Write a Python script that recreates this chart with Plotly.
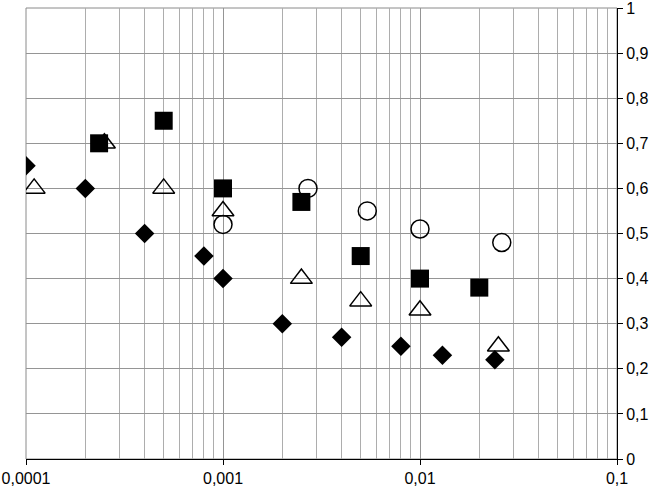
import plotly.graph_objects as go

# Data
diamond_x = [0.0001, 0.0002, 0.0004, 0.0008, 0.001, 0.002, 0.004, 0.008, 0.013, 0.024]
diamond_y = [0.65, 0.60, 0.50, 0.45, 0.40, 0.30, 0.27, 0.25, 0.23, 0.22]

square_x = [0.000235, 0.0005, 0.001, 0.0025, 0.005, 0.01, 0.02]
square_y = [0.70, 0.75, 0.60, 0.57, 0.45, 0.40, 0.38]

triangle_x = [0.00011, 0.00025, 0.0005, 0.001, 0.0025, 0.005, 0.01, 0.025]
triangle_y = [0.60, 0.70, 0.60, 0.55, 0.40, 0.35, 0.33, 0.25]

circle_x = [0.001, 0.0027, 0.0054, 0.01, 0.026]
circle_y = [0.52, 0.60, 0.55, 0.51, 0.48]

x_tickvals = [0.0001, 0.001, 0.01, 0.1]
x_ticktext = ["0,0001", "0,001", "0,01", "0,1"]

minor_vals = [m * d for d in (0.0001, 0.001, 0.01) for m in range(2, 10)]

fig = go.Figure()
fig.add_trace(go.Scatter(x=circle_x, y=circle_y, mode="markers",
                         marker=dict(symbol="circle-open", size=18, color="black",
                                     line=dict(color="black", width=1.5))))
fig.add_trace(go.Scatter(x=triangle_x, y=triangle_y, mode="markers",
                         marker=dict(symbol="triangle-up-open", size=19, color="black",
                                     line=dict(color="black", width=1.5))))
fig.add_trace(go.Scatter(x=square_x, y=square_y, mode="markers",
                         marker=dict(symbol="square", size=18, color="black",
                                     line=dict(color="black", width=0))))
fig.add_trace(go.Scatter(x=diamond_x, y=diamond_y, mode="markers",
                         marker=dict(symbol="diamond", size=15, color="black",
                                     line=dict(color="black", width=0))))

fig.update_layout(
    width=657, height=494,
    margin=dict(l=26, r=40, t=8, b=35),
    paper_bgcolor="white", plot_bgcolor="white",
    showlegend=False,
    separators=", ",
    font=dict(family="Liberation Sans", size=16, color="black"),
)
fig.update_xaxes(
    type="log", range=[-4, -1], automargin=False, ticklabeloverflow="allow",
    tickvals=x_tickvals, ticktext=x_ticktext,
    showgrid=True, gridcolor="#959595", gridwidth=1,
    showline=True, linecolor="black", linewidth=1,
    ticks="outside", ticklen=5, tickcolor="black",
    minor=dict(tickvals=minor_vals, showgrid=True, gridcolor="#adadad", gridwidth=1, ticks=""),
    zeroline=False, mirror=False,
)
fig.update_yaxes(
    range=[0, 1], dtick=0.1, tick0=0, side="right", automargin=False,
    ticklabeloverflow="allow",
    showgrid=True, gridcolor="#959595", gridwidth=1,
    showline=True, linecolor="black", linewidth=1,
    ticks="outside", ticklen=5, tickcolor="black",
    zeroline=False,
)
fig.add_shape(type="rect", xref="paper", yref="paper", x0=0, y0=0, x1=1, y1=1,
              line=dict(color="#8a8a8a", width=1), layer="below")
fig.write_html("out.html", post_script="document.body.style.margin='0';",
               config={"displayModeBar": False})
